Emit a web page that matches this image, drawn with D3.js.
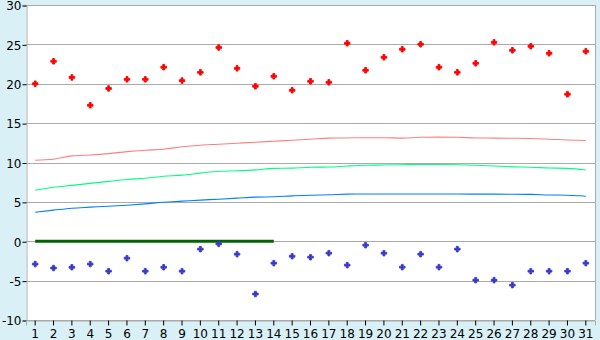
<!DOCTYPE html>
<html>
<head>
<meta charset="utf-8">
<script src="https://cdn.jsdelivr.net/npm/d3@7"></script>
<style>
    body { margin: 0; background: #d9f0f7; }
    svg { display: block; }
</style>
</head>
<body>
<svg id="chart"></svg>
<script>
(function () {

    // category labels 1..31
    var days = ["1","2","3","4","5","6","7","8","9","10","11","12","13","14","15","16",
        "17","18","19","20","21","22","23","24","25","26","27","28","29","30","31"];

    // red markers
    var highValues = [20.0, 22.85, 20.8, 17.27, 19.4, 20.56, 20.56, 22.1, 20.4, 21.45,
        24.6, 21.96, 19.68, 20.95, 19.17, 20.31, 20.18, 25.14, 21.71, 23.36,
        24.38, 25.01, 22.1, 21.45, 22.6, 25.26, 24.25, 24.76, 23.87, 18.67, 24.12];

    // blue markers
    var lowValues = [-2.9, -3.4, -3.3, -2.9, -3.8, -2.15, -3.8, -3.3, -3.8, -1.0,
        -0.33, -1.64, -6.7, -2.78, -1.9, -2.02, -1.51, -3.03, -0.5, -1.51,
        -3.29, -1.64, -3.29, -1.0, -4.94, -4.94, -5.57, -3.8, -3.8, -3.8, -2.78];

    // trend lines
    var redTrend = [10.29, 10.42, 10.84, 10.96, 11.13, 11.38, 11.56, 11.69, 12.0, 12.2,
        12.32, 12.45, 12.58, 12.7, 12.83, 12.96, 13.1, 13.12, 13.15, 13.15,
        13.1, 13.2, 13.22, 13.2, 13.12, 13.1, 13.08, 13.05, 12.96, 12.85, 12.8];
    var greenTrend = [6.48, 6.85, 7.1, 7.35, 7.6, 7.85, 8.0, 8.25, 8.4, 8.65,
        8.88, 8.95, 9.06, 9.25, 9.28, 9.4, 9.42, 9.55, 9.65, 9.68,
        9.72, 9.74, 9.74, 9.72, 9.65, 9.55, 9.45, 9.4, 9.3, 9.25, 9.05];
    var blueTrend = [3.69, 3.95, 4.2, 4.33, 4.45, 4.58, 4.75, 4.96, 5.09, 5.22,
        5.34, 5.47, 5.6, 5.65, 5.76, 5.85, 5.9, 5.98, 6.0, 6.0,
        6.0, 6.0, 6.0, 6.0, 5.98, 5.98, 5.96, 5.95, 5.88, 5.84, 5.72];

    // dark green zero line, days 1..14
    var zeroLine = [0, 0, 0, 0, 0, 0, 0, 0, 0, 0, 0, 0, 0, 0];

    var yTicks = [-10, -5, 0, 5, 10, 15, 20, 25, 30];

    var width = 600;
    var height = 340;
    var plotLeft = 26;
    var plotRight = 595;
    var plotTop = 5;
    var plotBottom = 320;
    var fontFamily = "'DejaVu Sans', Verdana, sans-serif";

    var svg = d3.select("#chart")
        .attr("width", width)
        .attr("height", height);

    var x = d3.scaleBand()
        .domain(days)
        .range([plotLeft, plotRight])
        .padding(0);
    var y = d3.scaleLinear()
        .domain([-10, 30])
        .range([plotBottom, plotTop]);

    function cx(i) { return x(days[i]) + x.bandwidth() / 2; }

    // plot background
    svg.append("rect")
        .attr("x", plotLeft)
        .attr("y", plotTop)
        .attr("width", plotRight - plotLeft)
        .attr("height", plotBottom - plotTop)
        .attr("fill", "#ffffff");

    // horizontal grid
    svg.append("g")
        .selectAll("line")
        .data(yTicks)
        .enter()
        .append("line")
        .attr("x1", plotLeft)
        .attr("x2", plotRight)
        .attr("y1", d => Math.round(y(d)) + 0.5)
        .attr("y2", d => Math.round(y(d)) + 0.5)
        .attr("stroke", "#aaaaaa")
        .attr("stroke-width", 1);

    // right border
    svg.append("line")
        .attr("x1", plotRight + 0.5)
        .attr("x2", plotRight + 0.5)
        .attr("y1", plotTop)
        .attr("y2", plotBottom)
        .attr("stroke", "#aaaaaa");

    // axes
    var yAxis = d3.axisLeft(y).tickValues(yTicks).tickSize(4).tickPadding(1)
        .tickFormat(d => String(d));
    var yG = svg.append("g")
        .attr("transform", "translate(" + (plotLeft + 0.5) + ",0.5)")
        .call(yAxis);
    var xAxis = d3.axisBottom(x).tickSize(5).tickPadding(4);
    var xG = svg.append("g")
        .attr("transform", "translate(0," + (Math.round(y(-10)) + 0.5) + ")")
        .call(xAxis);
    [yG, xG].forEach(function (g) {
        g.selectAll("path.domain").attr("stroke", "#aaaaaa");
        g.selectAll(".tick line").attr("stroke", "#000000");
        g.selectAll("text")
            .attr("fill", "#000000")
            .style("font-family", fontFamily)
            .style("font-size", "12px");
    });
    yG.selectAll("text").attr("dy", "0.36em");
    xG.selectAll("text").attr("dy", "0.72em");

    // trend lines
    var line = d3.line()
        .x((d, i) => cx(i))
        .y(d => y(d))
        .curve(d3.curveMonotoneX);

    var trends = [
        { values: redTrend, color: "#ff7f7f" },
        { values: greenTrend, color: "#00ff80" },
        { values: blueTrend, color: "#0080ff" }
    ];
    svg.append("g")
        .selectAll("path.trend")
        .data(trends)
        .enter()
        .append("path")
        .attr("class", "trend")
        .attr("d", d => line(d.values))
        .attr("fill", "none")
        .attr("stroke", d => d.color)
        .attr("stroke-width", 1.1);

    // zero line
    svg.append("path")
        .attr("d", d3.line().x((d, i) => cx(i)).y(d => y(d))(zeroLine))
        .attr("fill", "none")
        .attr("stroke", "#006400")
        .attr("stroke-width", 3);

    // markers
    var marker = d3.symbol().type(d3.symbolCross).size(17);
    var markerSets = [
        { values: highValues, color: "#ff0000" },
        { values: lowValues, color: "#3a3ac8" }
    ];
    markerSets.forEach(function (set) {
        svg.append("g")
            .selectAll("path")
            .data(set.values)
            .enter()
            .append("path")
            .attr("d", marker)
            .attr("transform", (d, i) => "translate(" + cx(i) + "," + y(d) + ")")
            .attr("fill", set.color)
            .attr("stroke", set.color)
            .attr("stroke-width", 0.9)
            .attr("stroke-linejoin", "round");
    });

})();
</script>
</body>
</html>
